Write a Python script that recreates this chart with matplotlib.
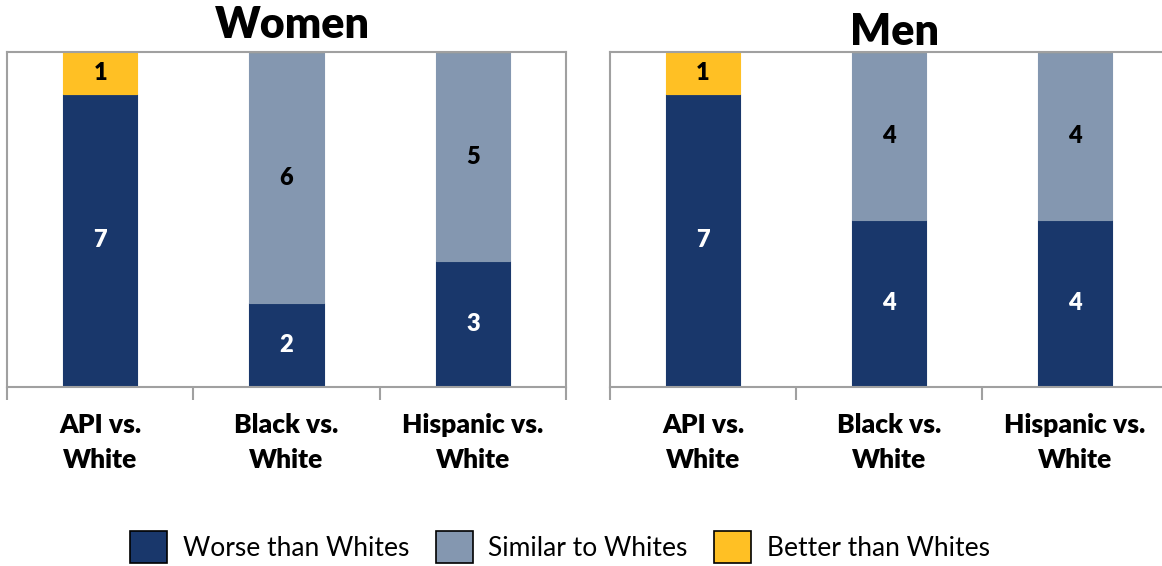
import matplotlib.pyplot as plt
from matplotlib.patches import Patch

plt.rcParams['font.family'] = ['Lato', 'DejaVu Sans']

categories = ["API vs.\nWhite", "Black vs.\nWhite", "Hispanic vs.\nWhite"]
series_names = ["Worse than Whites", "Similar to Whites", "Better than Whites"]
colors = ["#19376b", "#8497b0", "#ffc024"]
label_colors = ["white", "black", "black"]

# counts per category: worse, similar, better
women_worse = [7, 2, 3]
women_similar = [0, 6, 5]
women_better = [1, 0, 0]

men_worse = [7, 4, 4]
men_similar = [0, 4, 4]
men_better = [1, 0, 0]

W, H = 1162, 566
fig = plt.figure(figsize=(W / 100, H / 100), dpi=100)


def draw_panel(ax, title, worse, similar, better, pad):
    x = [i + 0.5 for i in range(len(categories))]
    bottom = [0] * len(x)
    for vals, col, lc in zip([worse, similar, better], colors, label_colors):
        bars = ax.bar(x, vals, 0.4, bottom=bottom, color=col,
                      edgecolor=col, linewidth=0.8)
        for b, v, b0 in zip(bars, vals, bottom):
            if v > 0:
                ax.text(b.get_x() + b.get_width() / 2, b0 + v / 2, str(v),
                        ha='center', va='center', color=lc,
                        fontsize=17, fontweight='heavy')
        bottom = [a + v for a, v in zip(bottom, vals)]

    ax.set_xlim(0, 3)
    ax.set_ylim(0, 8)
    ax.set_yticks([])
    ax.set_xticks([0, 1, 2, 3])
    ax.set_xticklabels([])
    ax.set_xticks(x, minor=True)
    ax.set_xticklabels(categories, minor=True, fontsize=19, fontweight='heavy',
                       linespacing=1.55)
    ax.tick_params(axis='x', which='major', length=9, width=1.5,
                   color='#a0a0a0', direction='out')
    ax.tick_params(axis='x', which='minor', length=0, pad=19)
    for s in ax.spines.values():
        s.set_color('#a0a0a0')
        s.set_linewidth(1.5)
    ax.set_title(title, fontsize=31, fontweight='heavy', pad=pad)


ax1 = fig.add_axes([7 / W, 1 - 387 / H, 559 / W, 335 / H])
draw_panel(ax1, "Women", women_worse, women_similar, women_better, 10)
ax1.title.set_position((0.51, 1.0))

ax2 = fig.add_axes([610 / W, 1 - 387 / H, 558 / W, 335 / H])
draw_panel(ax2, "Men", men_worse, men_similar, men_better, 5)
ax2.title.set_position((0.51, 1.0))

handles = [Patch(facecolor=c, edgecolor='black', linewidth=1.2) for c in colors]
fig.legend(handles, series_names, loc='center', bbox_to_anchor=(0.482, 1 - 547 / H),
           ncol=3, frameon=False, fontsize=19, handlelength=1.4, handleheight=1.45,
           handletextpad=0.6, columnspacing=1.0)

fig.savefig("out.png", dpi=100)
